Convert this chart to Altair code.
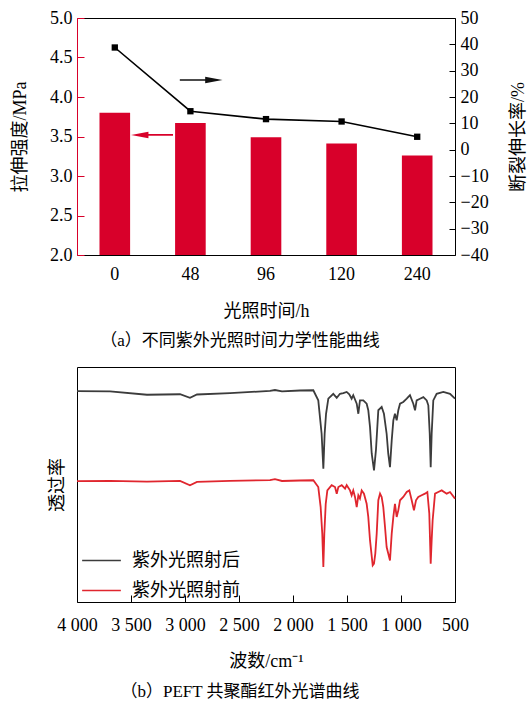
import altair as alt
import pandas as pd

SERIF = "Liberation Serif, Noto Sans CJK SC"

# ---------------- panel (a) ----------------
hours = ["0", "48", "96", "120", "240"]
tensile = [3.80, 3.67, 3.49, 3.41, 3.26]          # MPa (left axis)
elongation = [38.8, 14.6, 11.6, 10.7, 4.9]        # % (right axis)

# annotation arrows (x in band units 0..5, y in left-axis units)
arrow_start = [1.36, 1.27]
arrow_end = [1.81, 0.83]
arrow_level = [4.215, 3.52]
arrow_dir = ["right", "left"]
arrow_color = ["#111111", "#d8002a"]

# ---------------- panel (b) ----------------
after_wn = [4000, 3694, 3352, 3046, 2954, 2889, 2583, 2213, 2167, 2102, 1935,
            1812, 1766, 1735, 1719, 1707, 1694, 1673, 1627, 1595, 1565, 1534,
            1503, 1479, 1457, 1442, 1410, 1395, 1380, 1349, 1318, 1303, 1287,
            1271, 1250, 1232, 1210, 1179, 1158, 1133, 1118, 1102, 1086, 1071,
            1056, 1040, 1025, 1009, 979, 947, 917, 886, 870, 855, 824, 793,
            762, 747, 734, 725, 716, 701, 670, 608, 546, 500]
after_t = [89.7, 89.6, 88.2, 88.4, 86.9, 88.3, 88.9, 89.8, 90.2, 89.6, 90.0,
           90.1, 85.8, 71.6, 56.7, 71.6, 80.1, 86.5, 88.6, 86.9, 88.6, 88.9,
           89.4, 88.4, 86.5, 88.0, 84.4, 80.1, 85.8, 85.8, 84.4, 81.6, 74.5,
           63.1, 56.0, 64.6, 81.6, 83.0, 80.1, 71.6, 63.1, 57.4, 68.8, 77.3,
           80.1, 77.3, 81.6, 84.4, 85.1, 86.5, 88.0, 84.4, 81.6, 85.8, 86.5, 87.2,
           85.8, 83.7, 71.6, 57.4, 71.6, 85.8, 88.6, 89.4, 88.6, 86.5]

before_wn = [4000, 3694, 3352, 3046, 2954, 2889, 2583, 2213, 2167, 2102, 1935,
             1812, 1766, 1744, 1729, 1719, 1710, 1697, 1682, 1642, 1611, 1595,
             1580, 1549, 1518, 1503, 1472, 1457, 1442, 1426, 1410, 1395, 1380,
             1364, 1343, 1318, 1303, 1287, 1262, 1250, 1238, 1225, 1210, 1194,
             1179, 1164, 1148, 1133, 1118, 1102, 1086, 1071, 1056, 1040, 1025,
             1009, 979, 947, 923, 901, 880, 861, 840, 809, 778, 756, 738, 725,
             716, 707, 685, 655, 623, 577, 546, 500]
before_t = [51.4, 51.5, 51.2, 51.5, 49.7, 51.1, 51.5, 51.9, 52.3, 51.5, 51.7,
            51.8, 48.9, 40.4, 29.1, 14.9, 29.1, 41.8, 47.5, 49.7, 48.9, 46.1,
            48.9, 49.7, 48.2, 49.7, 47.5, 45.4, 47.5, 44.7, 40.4, 45.4, 44.0,
            47.5, 46.1, 41.8, 36.2, 26.3, 15.6, 16.3, 20.6, 29.1, 43.3, 46.1,
            44.7, 40.4, 31.9, 23.4, 20.6, 17.7, 29.1, 36.2, 41.8, 36.2, 39.0,
            43.3, 44.7, 46.8, 47.5, 43.3, 39.0, 43.3, 44.7, 45.4, 46.1, 46.8, 37.6, 16.3,
            26.3, 34.8, 46.1, 46.8, 47.5, 46.1, 46.8, 44.0]

series_names = ["紫外光照射后", "紫外光照射前"]
series_colors = ["#3c3c3c", "#e0262e"]
wn_ticks = [4000, 3500, 3000, 2500, 2000, 1500, 1000, 500]

# ---------------- tables ----------------
df_a = pd.DataFrame({"h": hours, "ts": tensile, "el": elongation})
df_arrow = pd.DataFrame({"x1": arrow_start, "x2": arrow_end, "y": arrow_level,
                         "dir": arrow_dir, "c": arrow_color})
df_b = pd.concat([
    pd.DataFrame({"wn": after_wn, "t": after_t, "s": series_names[0]}),
    pd.DataFrame({"wn": before_wn, "t": before_t, "s": series_names[1]}),
])

W = 378
H_A = 237
H_B = 235

band = alt.Scale(paddingInner=0.595, paddingOuter=0.2975)

bars = alt.Chart(df_a).mark_bar(color="#d8002a").encode(
    x=alt.X("h:N", sort=hours, scale=band,
            axis=alt.Axis(title="光照时间/h", domainColor="black", ticks=False,
                          labelAngle=0, labelPadding=10, titlePadding=19)),
    y=alt.Y("ts:Q", scale=alt.Scale(domain=[2, 5], nice=False, zero=False),
            axis=alt.Axis(title="拉伸强度/MPa", orient="left", offset=-7,
                          domain=False, tickColor="#d8002a", tickSize=7,
                          values=[2, 2.5, 3, 3.5, 4, 4.5, 5], format=".1f",
                          labelPadding=5, titlePadding=20)),
    y2=alt.datum(2),
)

line = alt.Chart(df_a).mark_line(
    color="black", strokeWidth=1.6,
    point=alt.OverlayMarkDef(shape="square", filled=True, size=40, color="black"),
).encode(
    x=alt.X("h:N", sort=hours, scale=band, axis=None),
    y=alt.Y("el:Q", scale=alt.Scale(domain=[-40, 50], nice=False, zero=False),
            axis=alt.Axis(title="断裂伸长率/%", orient="right", offset=-6,
                          domain=False, tickColor="black", tickSize=6,
                          values=list(range(-40, 51, 10)),
                          labelPadding=5, titlePadding=21, titleAngle=270,
                          titleBaseline="top")),
)

xs_arrow = alt.Scale(domain=[0, 5], nice=False, zero=False)
ys_arrow = alt.Scale(domain=[2, 5], nice=False, zero=False)

arrow_rule = alt.Chart(df_arrow).mark_rule(strokeWidth=1.6).encode(
    x=alt.X("x1:Q", scale=xs_arrow,
            axis=alt.Axis(orient="top", title=None, labels=False, ticks=False,
                          domainColor="black", grid=False)),
    x2="x2:Q",
    y=alt.Y("y:Q", scale=ys_arrow,
            axis=alt.Axis(orient="left", title=None, labels=False, ticks=False,
                          domainColor="#d8002a", grid=False)),
    color=alt.Color("c:N", scale=None),
)

arrow_head = alt.Chart(df_arrow).mark_point(filled=True, opacity=1, size=300).encode(
    x=alt.X("x2:Q", scale=xs_arrow, axis=None),
    y=alt.Y("y:Q", scale=ys_arrow,
            axis=alt.Axis(orient="right", title=None, labels=False, ticks=False,
                          domainColor="black", grid=False)),
    shape=alt.Shape("dir:N", legend=None,
                    scale=alt.Scale(domain=["right", "left"],
                                    range=["M-1,-0.38L1,0L-1,0.38Z",
                                           "M1,-0.38L-1,0L1,0.38Z"])),
    color=alt.Color("c:N", scale=None),
)

panel_a = alt.layer(bars, line, arrow_rule, arrow_head).resolve_scale(
    x="independent", y="independent"
).properties(
    width=W, height=H_A,
    view=alt.ViewBackground(stroke="transparent"),
    title=alt.TitleParams("（a）不同紫外光照时间力学性能曲线", orient="bottom",
                          anchor="middle", dx=-26, offset=13,
                          font=SERIF, fontSize=17, fontWeight="normal", color="black"),
)

panel_b = alt.Chart(df_b).mark_line(strokeWidth=1.8).encode(
    x=alt.X("wn:Q", scale=alt.Scale(domain=[500, 4000], reverse=True, nice=False, zero=False),
            axis=alt.Axis(title="波数/cm⁻¹", values=wn_ticks, offset=-7, tickSize=7,
                          domain=False, tickColor="black", labelOverlap=False,
                          labelFlush=False,
                          labelExpr="replace(format(datum.value, ','), ',', ' ')",
                          labelPadding=14, titlePadding=18, grid=False)),
    y=alt.Y("t:Q", scale=alt.Scale(domain=[0, 100], nice=False, zero=False),
            axis=alt.Axis(title="透过率", labels=False, ticks=False, domain=False,
                          grid=False, titlePadding=11)),
    color=alt.Color("s:N", sort=series_names,
                    scale=alt.Scale(domain=series_names, range=series_colors),
                    legend=alt.Legend(title=None, orient="none", legendX=4, legendY=173,
                                      symbolType="stroke", symbolSize=1500,
                                      symbolStrokeWidth=1.5, labelFont=SERIF,
                                      labelFontSize=18, labelOffset=10, rowPadding=-15,
                                      labelColor="black")),
    detail="s:N",
).properties(
    width=W, height=H_B,
    view=alt.ViewBackground(stroke="black", strokeWidth=1),
    title=alt.TitleParams("（b）PEFT 共聚酯红外光谱曲线", orient="bottom",
                          anchor="middle", dx=-26, offset=14,
                          font=SERIF, fontSize=17, fontWeight="normal", color="black"),
)

chart = alt.vconcat(panel_a, panel_b, spacing=16).resolve_scale(
    color="independent", shape="independent"
).resolve_legend(color="independent", shape="independent").properties(
    padding={"left": 11, "top": 8, "right": 0, "bottom": 0}
).configure_axis(
    labelFont=SERIF, labelFontSize=18, labelColor="black",
    titleFont=SERIF, titleFontSize=18, titleFontWeight="normal", titleColor="black",
    grid=False,
).configure_view(stroke="black")

chart.save("out.html", embed_options={"renderer": "svg", "actions": False})
